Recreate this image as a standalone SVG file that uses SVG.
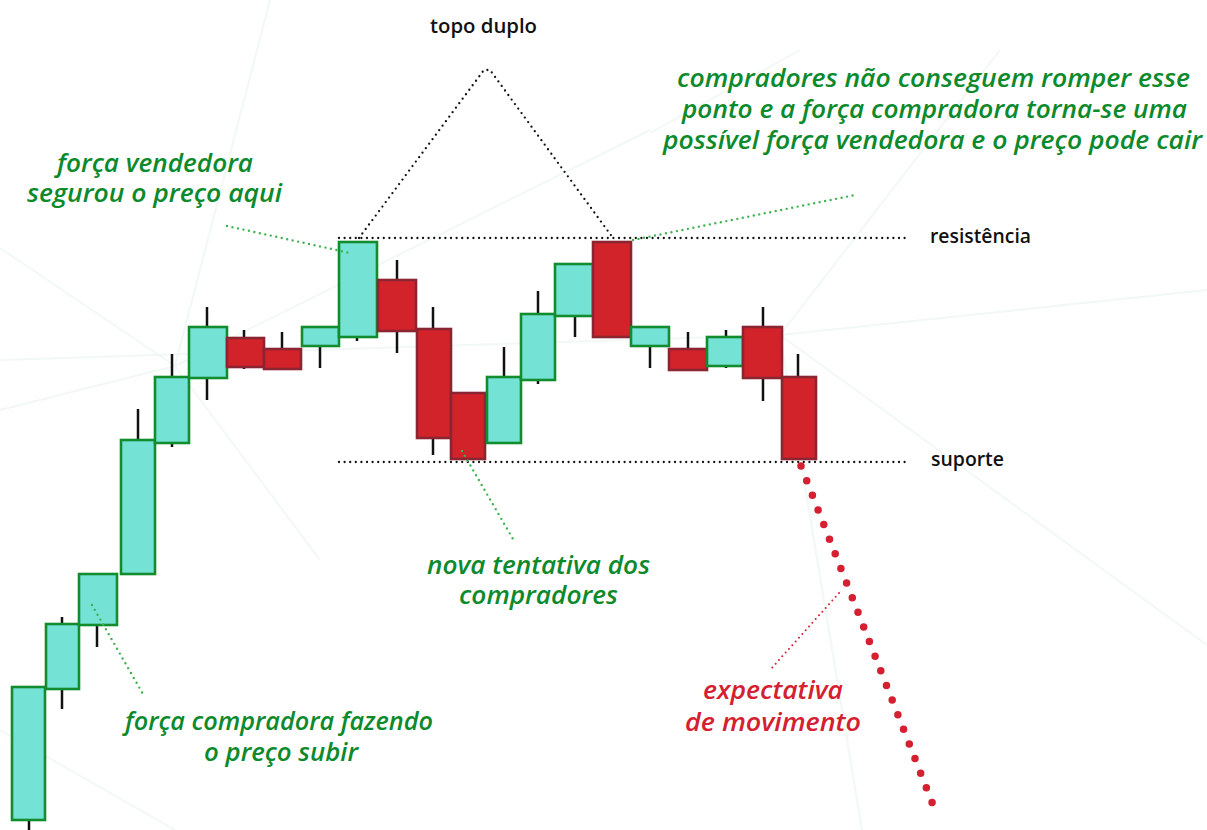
<svg xmlns="http://www.w3.org/2000/svg" width="1207" height="830" viewBox="0 0 1207 830">
  <style>
    .bg { fill: #ffffff; }
    .haze { stroke: #f1f8f6; stroke-width: 2; fill: none; }
    .wick { stroke: #111111; stroke-width: 2.5; }
    .up { fill: #74e2d4; stroke: #138c2f; stroke-width: 2.6; }
    .down { fill: #d2232b; stroke: #8c2532; stroke-width: 2.6; }
    .guide { stroke: #111111; stroke-width: 2.3; stroke-linecap: round; stroke-dasharray: 0 5.6; fill: none; }
    .pointer { stroke: #3fb34f; stroke-width: 2.4; stroke-linecap: round; stroke-dasharray: 0 5.6; fill: none; }
    .pointer-red { stroke: #d42030; stroke-width: 2; stroke-linecap: round; stroke-dasharray: 0 5; fill: none; }
    .forecast { stroke: #d42030; stroke-width: 7.5; stroke-linecap: round; stroke-dasharray: 0 15.7; fill: none; }
    .note { font-family: "Open Sans", "Noto Sans", sans-serif; font-style: italic; font-weight: 600; font-size: 26px; fill: #0d8a2c; }
    .note-red { font-family: "Open Sans", "Noto Sans", sans-serif; font-style: italic; font-weight: 600; font-size: 26px; fill: #d42030; }
    .label { font-family: "Open Sans", "Noto Sans", sans-serif; font-weight: 600; font-size: 20px; fill: #111111; }
  </style>

  <rect class="bg" x="0" y="0" width="1207" height="830"/>

  <!-- faint background rays -->
  <g id="background">
    <line class="haze" x1="270" y1="0" x2="175" y2="366"/>
    <line class="haze" x1="0" y1="410" x2="175" y2="366"/>
    <line class="haze" x1="175" y1="366" x2="650" y2="130"/>
    <line class="haze" x1="0" y1="248" x2="175" y2="366"/>
    <line class="haze" x1="175" y1="366" x2="320" y2="560"/>
    <line class="haze" x1="0" y1="730" x2="175" y2="830"/>
    <line class="haze" x1="0" y1="360" x2="780" y2="335"/>
    <line class="haze" x1="780" y1="335" x2="1207" y2="645"/>
    <line class="haze" x1="780" y1="335" x2="1207" y2="290"/>
    <line class="haze" x1="780" y1="335" x2="862" y2="830"/>
    <line class="haze" x1="780" y1="335" x2="1000" y2="50"/>
    <line class="haze" x1="650" y1="133" x2="800" y2="50"/>
  </g>

  <!-- candlesticks -->
  <g id="candles">
    <g id="c1"><line class="wick" x1="29" y1="816" x2="29" y2="830"/><rect class="up" x="12" y="687" width="33" height="133"/></g>
    <g id="c2"><line class="wick" x1="62" y1="617" x2="62" y2="709"/><rect class="up" x="46" y="624" width="33" height="65"/></g>
    <g id="c3"><line class="wick" x1="97" y1="620" x2="97" y2="647"/><rect class="up" x="79" y="574" width="38" height="51"/></g>
    <g id="c4"><line class="wick" x1="138" y1="409" x2="138" y2="445"/><rect class="up" x="121" y="440" width="34" height="134"/></g>
    <g id="c5"><line class="wick" x1="172" y1="354" x2="172" y2="447"/><rect class="up" x="155" y="377" width="34" height="66"/></g>
    <g id="c6"><line class="wick" x1="207" y1="307" x2="207" y2="400"/><rect class="up" x="189" y="327" width="38" height="51"/></g>
    <g id="c7"><line class="wick" x1="244" y1="330" x2="244" y2="369"/><rect class="down" x="227" y="338" width="37" height="29"/></g>
    <g id="c8"><line class="wick" x1="282" y1="332" x2="282" y2="360"/><rect class="down" x="264" y="349" width="37" height="20"/></g>
    <g id="c9"><line class="wick" x1="320" y1="335" x2="320" y2="368"/><rect class="up" x="302" y="327" width="37" height="19"/></g>
    <g id="c10"><line class="wick" x1="357" y1="300" x2="357" y2="341"/><rect class="up" x="339" y="242" width="38" height="95"/></g>
    <g id="c11"><line class="wick" x1="397" y1="260" x2="397" y2="353"/><rect class="down" x="378" y="280" width="38" height="51"/></g>
    <g id="c12"><line class="wick" x1="433" y1="307" x2="433" y2="455"/><rect class="down" x="417" y="329" width="34" height="109"/></g>
    <g id="c13"><rect class="down" x="451" y="393" width="34" height="66"/></g>
    <g id="c14"><line class="wick" x1="504" y1="347" x2="504" y2="400"/><rect class="up" x="487" y="377" width="34" height="66"/></g>
    <g id="c15"><line class="wick" x1="538" y1="291" x2="538" y2="384"/><rect class="up" x="521" y="314" width="34" height="66"/></g>
    <g id="c16"><line class="wick" x1="575" y1="290" x2="575" y2="337"/><rect class="up" x="555" y="264" width="38" height="52"/></g>
    <g id="c17"><rect class="down" x="593" y="242" width="38" height="95"/></g>
    <g id="c18"><line class="wick" x1="650" y1="335" x2="650" y2="368"/><rect class="up" x="631" y="327" width="38" height="19"/></g>
    <g id="c19"><line class="wick" x1="688" y1="332" x2="688" y2="360"/><rect class="down" x="669" y="349" width="38" height="21"/></g>
    <g id="c20"><line class="wick" x1="726" y1="330" x2="726" y2="368"/><rect class="up" x="707" y="337" width="36" height="29"/></g>
    <g id="c21"><line class="wick" x1="763" y1="307" x2="763" y2="401"/><rect class="down" x="743" y="327" width="39" height="51"/></g>
    <g id="c22"><line class="wick" x1="798" y1="354" x2="798" y2="400"/><rect class="down" x="782" y="377" width="34" height="82"/></g>
  </g>

  <!-- guide lines, pointers and the projected move -->
  <g id="connectors">
    <line id="resistance-line" class="guide" x1="339" y1="238" x2="905" y2="238"/>
    <line id="support-line" class="guide" x1="339" y1="462" x2="906" y2="462"/>
    <polyline id="double-top" class="guide" points="359,238 484,70 490,70 613,238"/>
    <line class="pointer" x1="227" y1="226" x2="350" y2="253"/>
    <line class="pointer" x1="633" y1="240" x2="855" y2="195"/>
    <line class="pointer" x1="462" y1="451" x2="513" y2="539"/>
    <line class="pointer" x1="92" y1="605" x2="143" y2="694"/>
    <line class="pointer-red" x1="839" y1="593" x2="771" y2="669"/>
    <line id="forecast" class="forecast" x1="801" y1="466" x2="935" y2="810"/>
  </g>

  <!-- labels -->
  <g id="label-topo"><text class="label" x="430" y="33" textLength="107" lengthAdjust="spacingAndGlyphs">topo duplo</text></g>
  <g id="label-resistencia"><text class="label" x="930" y="243" textLength="101" lengthAdjust="spacingAndGlyphs">resistência</text></g>
  <g id="label-suporte"><text class="label" x="931" y="466" textLength="73" lengthAdjust="spacingAndGlyphs">suporte</text></g>

  <g id="note-vendedora">
    <text class="note" x="57" y="172" textLength="196" lengthAdjust="spacingAndGlyphs">força vendedora</text>
    <text class="note" x="27" y="202" textLength="255" lengthAdjust="spacingAndGlyphs">segurou o preço aqui</text>
  </g>
  <g id="note-resistencia">
    <text class="note" x="677" y="87" textLength="513" lengthAdjust="spacingAndGlyphs">compradores não conseguem romper esse</text>
    <text class="note" x="682" y="118" textLength="505" lengthAdjust="spacingAndGlyphs">ponto e a força compradora torna-se uma</text>
    <text class="note" x="663" y="149" textLength="539" lengthAdjust="spacingAndGlyphs">possível força vendedora e o preço pode cair</text>
  </g>
  <g id="note-tentativa">
    <text class="note" x="427" y="574" textLength="223" lengthAdjust="spacingAndGlyphs">nova tentativa dos</text>
    <text class="note" x="459" y="604" textLength="159" lengthAdjust="spacingAndGlyphs">compradores</text>
  </g>
  <g id="note-compradora">
    <text class="note" x="125" y="730" textLength="308" lengthAdjust="spacingAndGlyphs">força compradora fazendo</text>
    <text class="note" x="204" y="761" textLength="154" lengthAdjust="spacingAndGlyphs">o preço subir</text>
  </g>
  <g id="note-expectativa">
    <text class="note-red" x="703" y="699" textLength="140" lengthAdjust="spacingAndGlyphs">expectativa</text>
    <text class="note-red" x="685" y="731" textLength="176" lengthAdjust="spacingAndGlyphs">de movimento</text>
  </g>
</svg>
